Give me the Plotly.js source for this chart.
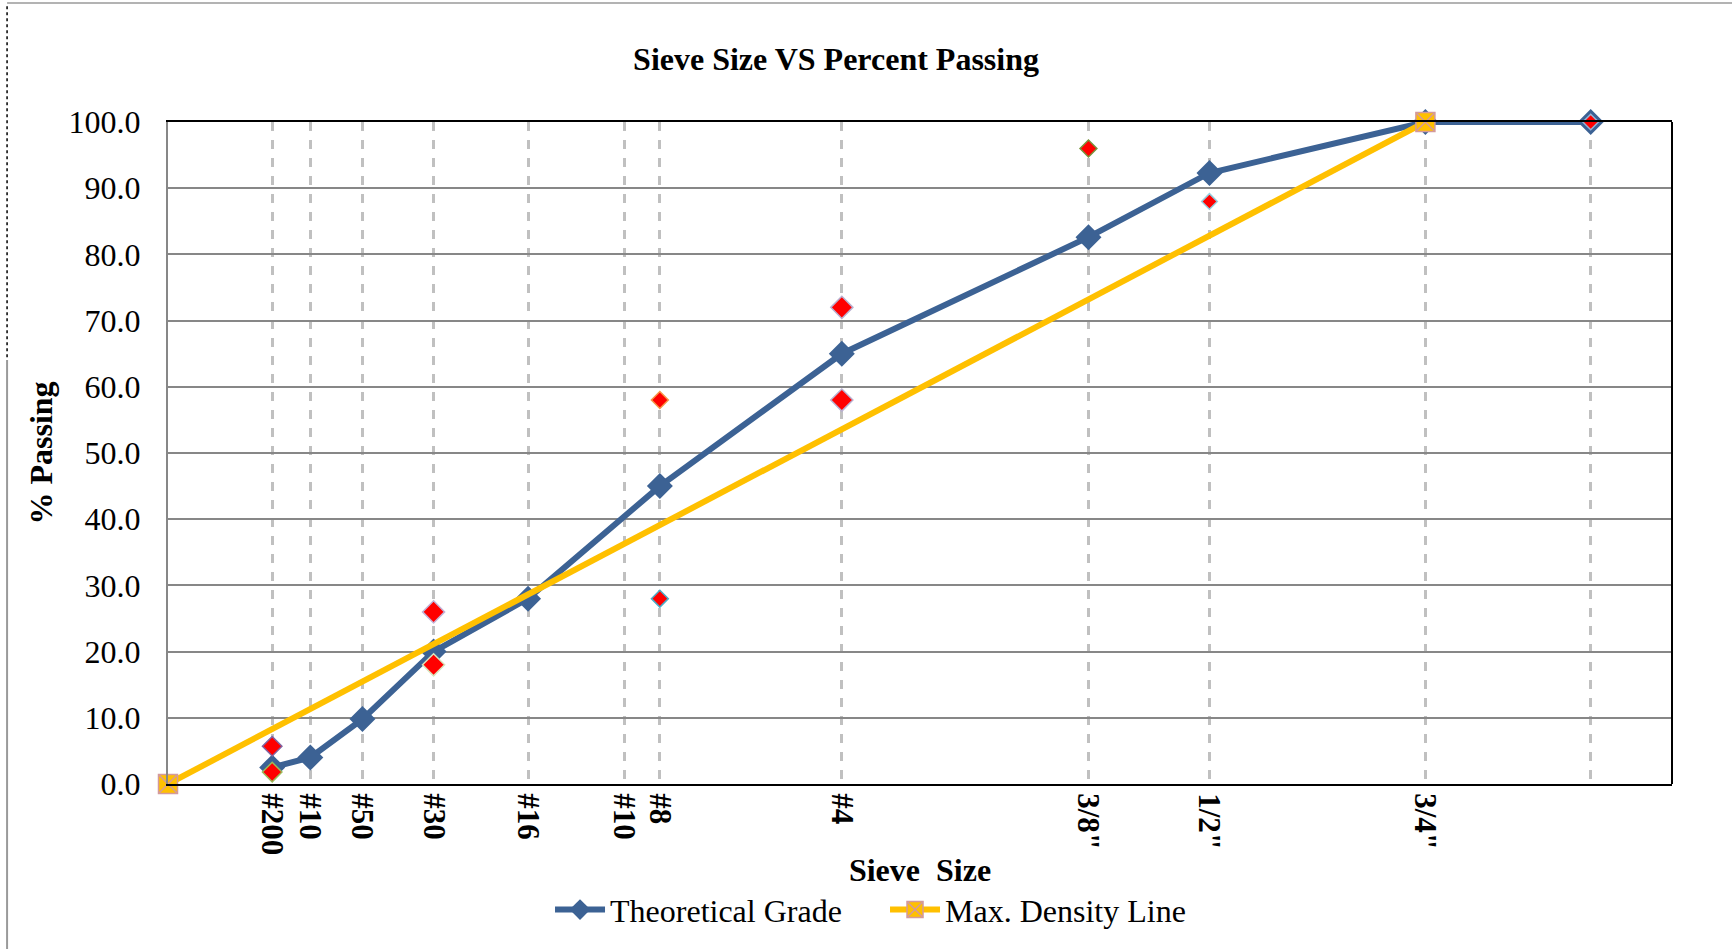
<!DOCTYPE html>
<html>
<head>
<meta charset="utf-8">
<script src="https://cdn.plot.ly/plotly-3.0.1.min.js"></script>
<style>
  html, body { margin: 0; padding: 0; background: #ffffff; }
  #chart { width: 1732px; height: 949px; }
</style>
</head>
<body>
<div id="chart"></div>
<script>
// ---- Data (sieve sizes in mm, plotted on a 0.45-power scale) ----
const sieveLabels = ['#200', '#10', '#50', '#30', '#16', '#10', '#8', '#4', '3/8"', '1/2"', '3/4"', ''];
const sieveMM     = [0.075, 0.15, 0.3, 0.6, 1.18, 2.0, 2.36, 4.75, 9.5, 12.5, 19.0, 25.0];

const theoSizes   = [0.075, 0.15, 0.3, 0.6, 1.18, 2.36, 4.75, 9.5, 12.5, 19.0, 25.0];
const theoPassing = [2.5, 4.0, 9.8, 20.0, 28.0, 45.0, 65.0, 82.6, 92.3, 100.0, 100.0];

const maxDensSizes   = [0, 19.0];
const maxDensPassing = [0, 100.0];

const upperSizes   = [0.075, 0.6, 2.36, 4.75, 9.5, 12.5, 19.0, 25.0];
const upperPassing = [5.7, 26.0, 58.0, 72.0, 96.0, 88.0, 100.0, 100.0];

const lowerSizes   = [0.075, 0.6, 2.36, 4.75];
const lowerPassing = [1.8, 18.0, 28.0, 58.0];

const POWER = 0.45;
const pw = arr => arr.map(d => Math.pow(d, POWER));

const serif = 'Liberation Serif, Times New Roman, serif';

const traces = [
  {
    name: 'Theoretical Grade',
    x: pw(theoSizes), y: theoPassing,
    mode: 'lines+markers',
    line: { color: '#3C6294', width: 6 },
    marker: { symbol: 'diamond', size: 20, color: '#3C6294', opacity: 1 },
    cliponaxis: false,
    showlegend: true
  },
  {
    name: 'Upper points',
    x: pw(upperSizes), y: upperPassing,
    mode: 'markers',
    marker: {
      symbol: 'diamond', color: '#FF0000', opacity: 1,
      size: [15, 17, 13, 17, 13, 12, 13, 12],
      line: { color: ['#8064A2', '#C3B4D8', '#F79646', '#B9B0D0', '#77933C', '#93CDDD', '#9BBB59', '#95B3D7'], width: 1.5 }
    },
    cliponaxis: false,
    showlegend: false, hoverinfo: 'x+y'
  },
  {
    name: 'Lower points',
    x: pw(lowerSizes), y: lowerPassing,
    mode: 'markers',
    marker: {
      symbol: 'diamond', color: '#FF0000', opacity: 1,
      size: [15, 17, 13, 17],
      line: { color: ['#9BBB59', '#D7E4BD', '#4BACC6', '#B9B0D0'], width: 1.5 }
    },
    cliponaxis: false,
    showlegend: false, hoverinfo: 'x+y'
  },
  {
    name: 'Max. Density Line',
    x: pw(maxDensSizes), y: maxDensPassing,
    mode: 'lines+markers',
    line: { color: '#FFC000', width: 6 },
    marker: { symbol: 'square-x', size: 19, color: '#FFC000', opacity: 1, line: { color: '#D49A9A', width: 1.5 } },
    cliponaxis: false,
    showlegend: true
  }
];

const layout = {
  width: 1732, height: 949,
  paper_bgcolor: '#ffffff', plot_bgcolor: '#ffffff',
  margin: { l: 168, r: 60, t: 122, b: 165 },
  font: { family: serif, color: '#000000', size: 32 },
  title: {
    text: 'Sieve Size VS Percent Passing',
    font: { family: serif, size: 32, weight: 'bold', color: '#000000' },
    x: 0.4827, xanchor: 'center', xref: 'container',
    y: 0.9385, yanchor: 'middle', yref: 'container'
  },
  xaxis: {
    range: [0, 4.5],
    tickmode: 'array',
    tickvals: pw(sieveMM),
    ticktext: sieveLabels,
    tickangle: 90,
    tickfont: { family: serif, size: 31, weight: 'bold', color: '#000000' },
    ticks: 'outside', ticklen: 1, tickcolor: 'rgba(0,0,0,0)',
    showgrid: true, gridcolor: '#C0C0C0', gridwidth: 3, griddash: 'dash',
    zeroline: false,
    showline: true, linecolor: '#000000', linewidth: 2, mirror: true,
    title: {
      text: 'Sieve  Size',
      font: { family: serif, size: 32, weight: 'bold', color: '#000000' },
      standoff: 4
    }
  },
  yaxis: {
    range: [0, 100],
    dtick: 10, tick0: 0,
    tickformat: '.1f',
    tickfont: { family: serif, size: 32, color: '#000000' },
    ticks: 'outside', ticklen: 19, tickcolor: 'rgba(0,0,0,0)',
    showgrid: true, gridcolor: '#878787', gridwidth: 1.5,
    zeroline: false,
    showline: true, linecolor: '#878787', linewidth: 2,
    title: {
      text: '% Passing',
      font: { family: serif, size: 32, weight: 'bold', color: '#000000' },
      standoff: 6
    }
  },
  legend: {
    orientation: 'h',
    x: 0.254, xanchor: 'left',
    y: -0.19, yanchor: 'middle',
    font: { family: serif, size: 32, color: '#000000' },
    itemwidth: 50,
    entrywidth: 270, entrywidthmode: 'pixels',
    bgcolor: 'rgba(0,0,0,0)'
  },
  shapes: [
    { type: 'line', xref: 'paper', yref: 'paper', x0: 1, x1: 1, y0: 0, y1: 1,
      line: { color: '#000000', width: 2 } },
    { type: 'line', xref: 'paper', yref: 'paper', x0: -0.107, x1: 1.04, y0: 1.1798, y1: 1.1798,
      line: { color: '#9A9A9A', width: 1.5 } },
    { type: 'line', xref: 'paper', yref: 'paper', x0: -0.107, x1: -0.107, y0: 1.175, y1: 0.6405,
      line: { color: '#000000', width: 1.5, dash: 'dot' } },
    { type: 'line', xref: 'paper', yref: 'paper', x0: -0.107, x1: -0.107, y0: 0.6405, y1: -0.26,
      line: { color: '#9A9A9A', width: 2 } }
  ],
  showlegend: true
};

Plotly.newPlot('chart', traces, layout, { displayModeBar: false, responsive: false });
</script>
</body>
</html>
